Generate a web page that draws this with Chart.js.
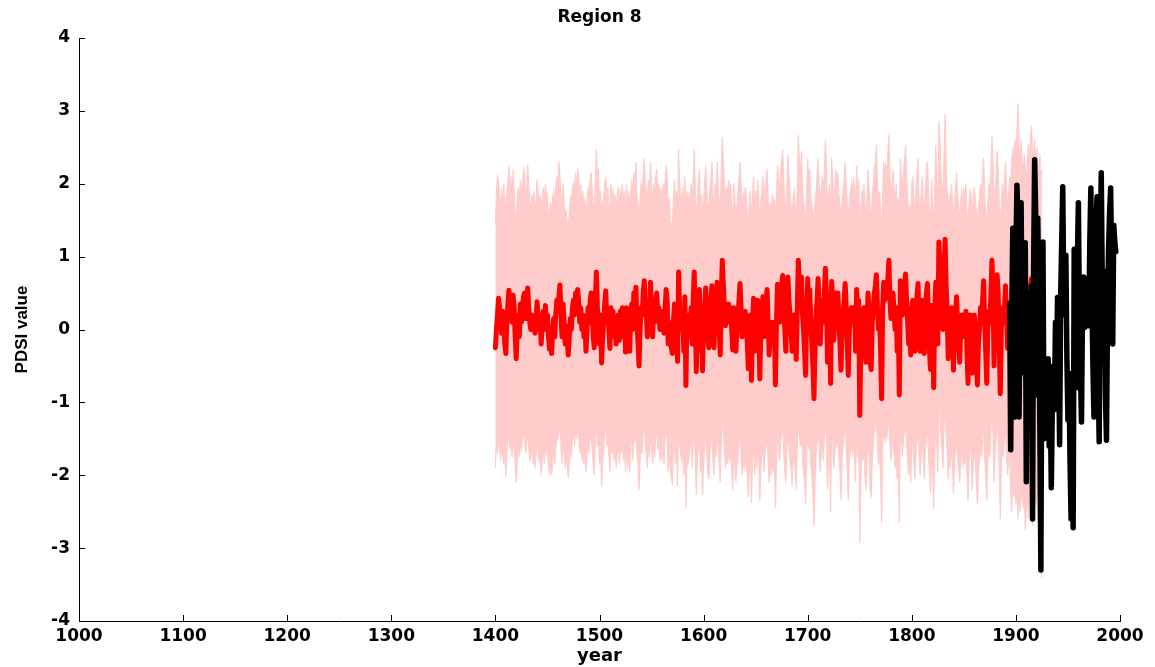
<!DOCTYPE html>
<html><head><meta charset="utf-8">
<script src="https://cdn.jsdelivr.net/npm/chart.js@4.4.1/dist/chart.umd.min.js"></script>
<style>html,body{margin:0;padding:0;background:#fff;} #wrap{width:1155px;height:667px;}</style>
</head><body><div id="wrap"><canvas id="c" width="1155" height="667"></canvas></div>
<script>
// ---- data ----
const reconStart = 1400;
const recon = [
-0.25,0.0,0.2,0.43,0.3,0.1,-0.05,0.25,0.05,-0.2,
-0.33,0.1,0.35,0.54,0.2,0.4,0.1,0.47,0.3,-0.1,
-0.4,0.0,0.2,-0.1,0.35,0.1,0.3,0.45,0.5,0.15,
0.35,0.57,0.3,0.1,0.0,0.2,0.05,0.15,-0.05,0.1,
0.38,0.2,0.0,0.1,-0.2,0.1,0.25,0.0,0.33,0.1,
0.2,-0.1,-0.27,0.0,-0.33,0.0,0.15,-0.1,0.2,0.4,
0.3,0.45,0.61,0.2,-0.1,0.35,0.1,-0.2,0.05,-0.15,
-0.35,-0.1,0.15,0.0,0.3,0.4,0.2,0.5,0.3,0.55,
0.4,0.1,0.3,0.0,0.2,-0.1,0.1,-0.3,0.0,0.3,
0.1,0.4,0.5,0.2,-0.1,-0.25,0.4,0.79,0.3,0.1,
-0.2,0.2,-0.46,-0.1,0.1,0.35,0.53,0.1,0.3,0.0,
-0.26,0.3,0.1,0.25,-0.1,0.15,-0.2,0.1,0.2,-0.15,
0.25,0.1,0.3,-0.1,0.2,-0.31,0.3,-0.2,0.1,-0.3,
0.2,0.35,0.0,0.5,0.3,0.58,0.1,-0.2,-0.5,0.0,
0.3,0.2,0.5,0.67,0.3,0.2,-0.1,0.3,0.1,0.65,
0.2,-0.1,0.3,0.1,0.4,0.5,0.2,0.3,0.0,0.2,
0.0,0.25,-0.05,0.3,0.55,0.4,-0.2,0.1,-0.1,-0.25,
-0.33,0.1,0.35,-0.1,0.2,-0.44,0.79,0.3,0.1,0.0,
0.2,-0.3,0.45,-0.77,0.2,-0.1,0.1,0.0,0.3,-0.2,
0.4,0.79,0.2,-0.58,0.1,0.3,0.55,-0.3,0.1,-0.57,
0.1,0.3,0.57,0.2,-0.1,-0.25,0.2,0.4,0.6,0.1,
-0.25,0.3,0.2,0.65,0.3,0.0,-0.35,0.5,0.95,0.6,
0.3,0.05,0.25,0.1,0.35,0.15,0.3,0.0,-0.28,0.3,
0.1,-0.3,0.0,0.2,0.4,0.63,0.3,-0.1,0.1,0.0,
0.25,0.1,-0.2,-0.54,0.0,0.2,-0.7,0.1,0.43,-0.3,
0.2,0.0,0.4,0.1,-0.68,0.0,0.2,0.45,-0.1,0.2,
0.4,0.55,0.1,-0.35,0.0,-0.2,0.1,-0.1,0.1,-0.76,
0.1,0.62,0.3,0.1,0.5,0.6,0.74,0.3,0.0,-0.3,
0.3,0.72,0.4,0.2,0.0,-0.3,0.1,0.2,-0.1,-0.41,
0.3,0.95,0.6,0.4,0.72,0.2,0.0,-0.3,-0.63,0.2,
0.7,0.3,0.55,0.1,-0.2,-0.5,-0.95,-0.3,0.2,0.4,
0.7,0.3,-0.2,0.2,0.4,0.1,0.5,0.84,0.5,-0.45,
0.1,0.3,-0.74,0.66,0.4,-0.15,0.2,0.5,0.3,0.5,
0.1,-0.2,-0.56,0.0,0.2,0.4,0.63,0.3,-0.2,-0.63,
0.0,0.2,0.3,0.1,0.2,0.3,-0.3,0.55,0.1,0.4,
-1.18,-0.3,0.2,0.05,0.3,-0.2,-0.45,0.1,0.5,0.2,
-0.45,-0.55,0.1,0.3,0.5,0.6,0.75,0.3,0.0,0.2,
-0.3,-0.95,0.3,0.65,0.4,0.6,0.5,0.7,0.95,0.4,
0.15,0.3,0.5,0.2,0.0,0.3,-0.3,0.1,-0.9,0.67,
0.4,0.2,0.5,0.6,0.76,0.4,0.1,-0.2,0.0,-0.35,
0.3,0.4,0.0,-0.3,0.2,0.45,0.63,0.1,-0.3,0.1,
0.4,0.0,-0.33,0.2,0.5,0.63,0.2,-0.3,-0.55,0.33,
0.0,-0.8,0.2,0.65,0.3,-0.2,1.2,0.9,0.5,0.2,
0.0,0.8,1.24,0.6,0.2,-0.4,0.1,-0.1,0.3,0.1,
-0.56,0.0,0.2,0.45,0.1,-0.2,-0.45,0.0,0.2,-0.1,
0.2,0.0,0.25,-0.3,-0.74,0.0,0.2,0.1,-0.6,-0.1,
0.2,0.0,-0.4,-0.76,-0.2,0.0,0.3,0.1,0.4,0.67,
0.1,-0.3,-0.74,0.0,0.25,0.1,0.5,0.95,0.6,-0.5,
0.2,0.4,0.75,0.5,-0.2,-0.88,0.0,0.3,0.1,0.3,
0.6,0.2,-0.26,0.1,0.3,-0.2,0.1,0.4,-0.1,0.2,
0.5,0.3,-0.3,0.0,0.4,0.2,-0.1,0.3,0.0,0.5,
-0.2,0.1,0.3,0.2,0.6,0.7,0.2,0.4,0.6,0.1,
0.3,-0.2,0.2,0.4,-0.3,0.1
];
const upperBound = [
1.43,1.9,2.1,2.05,1.8,1.7,1.95,1.6,2.0,1.75,
1.6,1.9,2.0,2.25,1.85,2.1,1.7,2.2,1.9,1.55,
1.5,1.8,1.95,1.7,2.05,1.8,2.0,2.2,2.15,1.8,
1.9,2.26,2.0,1.7,1.65,1.85,1.7,1.9,1.6,1.75,
2.05,1.9,1.7,1.85,1.6,1.8,1.95,1.7,2.0,1.8,
1.85,1.6,1.55,1.75,1.6,1.8,1.9,1.7,1.95,2.1,
1.9,2.3,2.1,1.8,1.6,2.0,1.75,1.5,1.65,1.45,
1.4,1.6,1.8,1.7,1.95,2.0,1.85,2.15,1.9,2.2,
2.1,1.8,2.0,1.7,1.9,1.6,1.8,1.55,1.7,1.95,
1.8,2.05,2.15,1.9,1.7,1.6,2.1,2.47,2.0,2.2,
1.7,1.9,1.5,1.75,1.8,2.0,2.1,1.85,1.95,1.7,
1.55,2.0,1.8,1.9,1.7,1.85,1.6,1.8,1.95,1.7,
1.9,1.85,2.0,1.7,1.9,1.6,2.0,1.75,1.85,1.65,
1.9,2.05,1.8,2.15,2.0,2.3,1.85,1.7,1.5,1.8,
2.0,1.9,2.1,2.35,2.0,1.9,1.7,2.05,1.85,2.3,
1.9,1.7,2.0,1.85,2.1,2.2,1.9,2.0,1.75,1.95,
1.7,2.0,1.8,2.05,2.25,2.1,1.6,1.8,1.5,1.45,
1.4,1.8,2.05,1.7,1.9,1.6,2.47,2.0,1.85,1.75,
1.95,1.6,2.1,1.5,1.9,1.7,1.85,1.8,2.0,1.7,
2.05,2.47,1.9,1.5,1.8,2.0,2.2,1.7,1.85,1.5,
1.8,2.0,2.25,1.9,1.75,1.6,1.9,2.05,2.3,1.85,
1.6,2.0,1.9,2.3,2.0,1.75,1.55,2.2,2.63,2.3,
2.0,1.75,1.95,1.8,2.05,1.85,2.0,1.7,1.5,2.0,
1.8,1.5,1.7,1.9,2.1,2.3,2.0,1.7,1.85,1.75,
1.95,1.8,1.6,1.4,1.75,1.9,1.45,1.8,2.1,1.6,
1.9,1.7,2.05,1.8,1.45,1.75,1.9,2.1,1.7,1.95,
2.05,2.2,1.8,1.55,1.75,1.6,1.85,1.7,1.8,1.45,
1.8,2.25,2.0,1.85,2.2,2.3,2.47,2.0,1.75,1.6,
1.95,2.4,2.1,1.9,1.7,1.55,1.8,1.9,1.7,1.55,
2.0,2.67,2.3,2.1,2.45,1.9,1.75,1.6,1.45,1.9,
2.35,2.0,2.2,1.8,1.7,1.6,1.5,1.75,1.9,2.1,
2.35,2.0,1.7,1.9,2.1,1.85,2.2,2.6,2.2,1.65,
1.8,2.0,1.5,2.35,2.1,1.75,1.9,2.2,2.0,2.15,
1.85,1.7,1.5,1.75,1.9,2.05,2.3,2.0,1.7,1.55,
1.75,1.9,2.0,1.85,2.1,1.9,1.6,2.25,1.8,2.05,
1.3,1.65,1.9,1.8,2.0,1.7,1.55,1.85,2.2,1.9,
1.6,1.5,1.8,2.0,2.2,2.3,2.53,2.0,1.75,1.9,
1.6,1.2,1.9,2.3,2.1,2.25,2.2,2.4,2.67,2.1,
1.85,2.0,2.2,1.9,1.75,2.0,1.6,1.8,1.3,2.35,
2.1,1.9,2.2,2.3,2.53,2.1,1.8,1.55,1.7,1.5,
2.0,2.1,1.75,1.6,1.9,2.15,2.35,1.8,1.6,1.85,
2.1,1.75,1.6,1.9,2.2,2.3,1.9,1.6,1.45,2.05,
1.75,1.3,1.9,2.53,2.0,1.6,2.85,2.6,2.2,1.95,
1.8,2.4,2.96,2.3,1.9,1.6,1.85,1.7,2.0,1.8,
1.45,1.75,1.9,2.15,1.85,1.65,1.5,1.75,1.9,1.8,
1.95,1.75,2.0,1.6,1.4,1.75,1.9,1.85,1.5,1.8,
1.95,1.8,1.6,1.4,1.7,1.8,2.0,1.85,2.1,2.35,
1.85,1.6,1.4,1.75,2.0,1.85,2.2,2.65,2.3,1.6,
1.9,2.1,2.45,2.2,1.7,1.3,1.75,2.0,1.85,2.0,
2.3,1.9,1.6,1.85,2.1,2.0,2.3,2.5,2.2,2.6,
2.4,2.7,3.1,2.5,2.2,2.6,2.3,2.1,2.4,2.2,
2.0,2.3,2.55,2.2,2.6,2.8,2.3,2.4,2.6,2.2,
2.5,2.3,2.1,2.4,2.0,2.2
];
const lowerBound = [
-1.9,-1.5,-1.7,-1.45,-1.6,-1.8,-1.55,-1.7,-1.85,-1.6,
-2.02,-1.7,-1.5,-1.4,-1.65,-1.5,-1.75,-1.45,-1.6,-1.85,
-2.1,-1.8,-1.6,-1.75,-1.5,-1.65,-1.55,-1.4,-1.5,-1.7,
-1.55,-1.4,-1.6,-1.8,-1.75,-1.6,-1.85,-1.7,-1.9,-1.75,
-1.5,-1.65,-1.8,-1.7,-2.0,-1.75,-1.6,-1.85,-1.5,-1.7,
-1.6,-1.85,-2.0,-1.75,-2.0,-1.8,-1.6,-1.85,-1.65,-1.45,
-1.5,-1.4,-1.25,-1.6,-1.85,-1.5,-1.7,-1.9,-1.75,-1.85,
-2.04,-1.8,-1.6,-1.75,-1.5,-1.4,-1.6,-1.3,-1.5,-1.35,
-1.45,-1.7,-1.5,-1.8,-1.6,-1.85,-1.7,-1.95,-1.75,-1.5,
-1.7,-1.5,-1.4,-1.65,-1.85,-2.0,-1.5,-1.2,-1.6,-1.5,
-1.85,-1.6,-2.15,-1.8,-1.65,-1.4,-1.3,-1.6,-1.5,-1.75,
-1.95,-1.5,-1.7,-1.55,-1.8,-1.6,-1.9,-1.7,-1.55,-1.85,
-1.5,-1.7,-1.45,-1.8,-1.6,-1.95,-1.5,-1.9,-1.65,-1.95,
-1.6,-1.45,-1.8,-1.35,-1.55,-1.3,-1.7,-1.85,-2.2,-1.8,
-1.6,-1.7,-1.4,-1.25,-1.6,-1.7,-1.9,-1.55,-1.75,-1.3,
-1.65,-1.85,-1.5,-1.75,-1.45,-1.4,-1.65,-1.55,-1.8,-1.6,
-1.8,-1.55,-1.85,-1.5,-1.3,-1.5,-1.95,-1.7,-1.9,-2.05,
-2.1,-1.7,-1.45,-1.85,-1.6,-2.15,-1.2,-1.55,-1.7,-1.8,
-1.6,-2.0,-1.4,-2.45,-1.7,-1.85,-1.75,-1.6,-1.5,-1.9,
-1.5,-1.3,-1.75,-2.27,-1.8,-1.6,-1.4,-1.95,-1.75,-2.27,
-1.85,-1.6,-1.35,-1.7,-1.95,-2.05,-1.7,-1.55,-1.4,-1.8,
-2.0,-1.65,-1.75,-1.4,-1.6,-1.85,-2.1,-1.5,-1.1,-1.4,
-1.65,-1.9,-1.7,-1.85,-1.6,-1.8,-1.65,-1.95,-2.2,-1.7,
-1.85,-2.1,-1.9,-1.75,-1.55,-1.3,-1.65,-2.0,-1.8,-1.9,
-1.7,-1.85,-2.0,-2.3,-1.9,-1.7,-2.38,-1.8,-1.5,-2.0,
-1.75,-1.9,-1.6,-1.8,-2.35,-1.9,-1.75,-1.5,-1.95,-1.7,
-1.6,-1.45,-1.8,-2.1,-1.85,-2.0,-1.8,-1.95,-1.8,-2.45,
-1.85,-1.4,-1.6,-1.8,-1.55,-1.45,-1.3,-1.7,-1.95,-2.1,
-1.7,-1.35,-1.6,-1.8,-1.9,-2.15,-1.8,-1.7,-1.95,-2.2,
-1.6,-1.15,-1.45,-1.6,-1.35,-1.8,-1.95,-2.1,-2.4,-1.7,
-1.35,-1.65,-1.5,-1.85,-2.0,-2.25,-2.7,-2.05,-1.7,-1.55,
-1.3,-1.6,-1.95,-1.7,-1.5,-1.8,-1.45,-1.2,-1.5,-2.2,
-1.8,-1.6,-2.5,-1.3,-1.5,-1.9,-1.7,-1.4,-1.6,-1.5,
-1.75,-1.95,-2.35,-1.8,-1.6,-1.45,-1.3,-1.6,-1.95,-2.35,
-1.8,-1.65,-1.5,-1.75,-1.45,-1.7,-2.1,-1.3,-1.75,-1.5,
-2.93,-2.1,-1.6,-1.8,-1.55,-2.0,-2.2,-1.75,-1.4,-1.65,
-2.2,-2.3,-1.8,-1.6,-1.4,-1.3,-1.2,-1.6,-1.85,-1.7,
-2.0,-2.65,-1.6,-1.3,-1.55,-1.4,-1.5,-1.35,-1.1,-1.55,
-1.8,-1.6,-1.45,-1.7,-1.9,-1.65,-2.05,-1.8,-2.65,-1.3,
-1.55,-1.75,-1.5,-1.4,-1.25,-1.55,-1.8,-2.0,-1.7,-2.1,
-1.6,-1.5,-1.85,-2.05,-1.7,-1.5,-1.35,-1.75,-2.0,-1.7,
-1.5,-1.8,-2.05,-1.65,-1.45,-1.3,-1.7,-2.0,-2.25,-1.6,
-1.9,-2.46,-1.7,-1.3,-1.6,-1.95,-0.9,-1.1,-1.45,-1.65,
-1.9,-1.3,-1.0,-1.4,-1.7,-2.05,-1.75,-1.9,-1.6,-1.8,
-2.25,-1.85,-1.7,-1.5,-1.75,-1.9,-2.1,-1.8,-1.6,-1.9,
-1.7,-1.85,-1.6,-1.95,-2.35,-1.8,-1.6,-1.7,-2.2,-1.85,
-1.65,-1.8,-2.1,-2.4,-1.95,-1.8,-1.6,-1.75,-1.5,-1.3,
-1.75,-2.0,-2.35,-1.8,-1.6,-1.75,-1.4,-1.0,-1.35,-2.1,
-1.7,-1.5,-1.2,-1.45,-1.9,-2.6,-1.85,-1.6,-1.75,-1.5,
-1.3,-1.7,-2.0,-1.8,-1.6,-2.2,-2.5,-1.9,-2.3,-2.0,
-2.4,-2.1,-2.6,-2.2,-2.5,-2.3,-2.0,-2.45,-2.2,-2.75,
-2.5,-2.2,-2.6,-2.3,-2.0,-2.5,-2.7,-2.3,-2.1,-2.4,
-2.2,-2.6,-2.4,-2.8,-2.9,-3.4
];
const instStart = 1894;
const instrumental = [
0.36,-1.65,0.2,1.39,-0.5,-1.2,1.0,1.98,1.5,-1.2,
0.3,1.74,0.0,0.9,-0.6,1.19,-2.09,0.5,-0.8,0.3,
-1.0,0.6,-2.6,0.8,2.33,1.6,-0.9,1.53,0.4,-1.3,
-3.3,0.3,1.2,-1.5,-0.4,-1.34,-0.6,-0.4,-1.6,-0.9,
-2.17,-1.0,-0.5,-1.1,0.1,-0.7,0.44,-0.3,-1.58,
0.45,1.2,1.96,0.5,0.2,1.02,-0.4,-1.24,-0.6,-1.8,
-2.6,-0.9,-2.72,1.1,0.5,-0.8,0.9,1.74,0.2,-0.6,
-1.27,0.3,0.72,0.03,0.6,0.1,0.7,0.05,1.2,1.94,
0.4,-0.5,-1.2,0.9,1.5,1.82,-0.6,-1.54,1.0,2.15,
0.6,-0.3,0.8,-0.9,-1.52,0.2,1.1,1.6,1.94,0.9,
-0.2,1.43,1.2,1.07
];
const xTickValues = [1000,1100,1200,1300,1400,1500,1600,1700,1800,1900,2000];
const yTickValues = [-4,-3,-2,-1,0,1,2,3,4];
const chartTitle = 'Region 8';
const xTitle = 'year';
const yTitle = 'PDSI value';

// ---- build ----
const toPts = (start, arr) => arr.map((v, i) => ({x: start + i, y: v}));
const PINK = 'rgb(255,204,204)';
const WIDE = '"DejaVu Sans", Verdana, sans-serif';
const ARIAL = '"Liberation Sans", Arial, sans-serif';

const inwardTicksAndTitle = {
  id: 'inwardTicksAndTitle',
  afterDraw(chart) {
    const {ctx, chartArea} = chart;
    const xs = chart.scales.x, ys = chart.scales.y;
    ctx.save();
    ctx.strokeStyle = '#000'; ctx.lineWidth = 1;
    ctx.beginPath();
    ys.ticks.forEach(t => {
      const py = Math.round(ys.getPixelForValue(t.value)) + 0.5;
      ctx.moveTo(chartArea.left, py); ctx.lineTo(chartArea.left + 6, py);
    });
    xs.ticks.forEach(t => {
      const px = Math.round(xs.getPixelForValue(t.value)) + 0.5;
      ctx.moveTo(px, chartArea.bottom); ctx.lineTo(px, chartArea.bottom - 6);
    });
    ctx.stroke();
    // title centred over the plot area
    ctx.fillStyle = '#000';
    ctx.font = 'bold 17px ' + WIDE;
    ctx.textAlign = 'center';
    ctx.textBaseline = 'middle';
    ctx.fillText(chartTitle, (chartArea.left + chartArea.right) / 2, 18);
    ctx.restore();
  }
};

new Chart(document.getElementById('c'), {
  type: 'line',
  data: {
    datasets: [
      {label: 'instrumental', data: toPts(instStart, instrumental), borderColor: '#000', borderWidth: 5.5,
       pointRadius: 0, borderJoinStyle: 'round', borderCapStyle: 'round', fill: false, tension: 0},
      {label: 'reconstruction', data: toPts(reconStart, recon), borderColor: '#ff0000', borderWidth: 5,
       pointRadius: 0, borderJoinStyle: 'round', borderCapStyle: 'round', fill: false, tension: 0},
      {label: 'upper', data: toPts(reconStart, upperBound), borderColor: PINK, backgroundColor: PINK, borderWidth: 1.2,
       pointRadius: 0, fill: '+1', tension: 0},
      {label: 'lower', data: toPts(reconStart, lowerBound), borderColor: PINK, backgroundColor: PINK, borderWidth: 1.2,
       pointRadius: 0, fill: false, tension: 0}
    ]
  },
  options: {
    responsive: false,
    animation: false,
    devicePixelRatio: 1,
    layout: {padding: {left: 0, right: 35, top: 38, bottom: 0}},
    plugins: {
      legend: {display: false},
      tooltip: {enabled: false},
      title: {display: false}
    },
    scales: {
      x: {
        type: 'linear', min: 1000, max: 2000,
        afterBuildTicks: s => { s.ticks = xTickValues.map(v => ({value: v})); },
        afterFit: s => { s.height = 46; },
        grid: {display: false, drawTicks: false},
        border: {display: true, color: '#000', width: 1},
        ticks: {color: '#000', padding: 5, maxRotation: 0, autoSkip: false,
          callback: v => String(v),
          font: {family: WIDE, size: 17, weight: 'bold'}},
        title: {display: true, text: xTitle, color: '#000', padding: {top: 0, bottom: 0},
          font: {family: WIDE, size: 18, weight: 'bold', lineHeight: 1.2}}
      },
      y: {
        type: 'linear', min: -4, max: 4,
        afterBuildTicks: s => { s.ticks = yTickValues.map(v => ({value: v})); },
        afterFit: s => { s.width = 79; },
        grid: {display: false, drawTicks: false},
        border: {display: true, color: '#000', width: 1},
        ticks: {color: '#000', padding: 9, autoSkip: false,
          callback: v => String(v),
          font: {family: WIDE, size: 17, weight: 'bold'}},
        title: {display: true, text: yTitle, color: '#000', padding: {top: 12, bottom: 0},
          font: {family: ARIAL, size: 17, weight: 'bold', lineHeight: 1.2}}
      }
    }
  },
  plugins: [inwardTicksAndTitle]
});
</script>
</body></html>
